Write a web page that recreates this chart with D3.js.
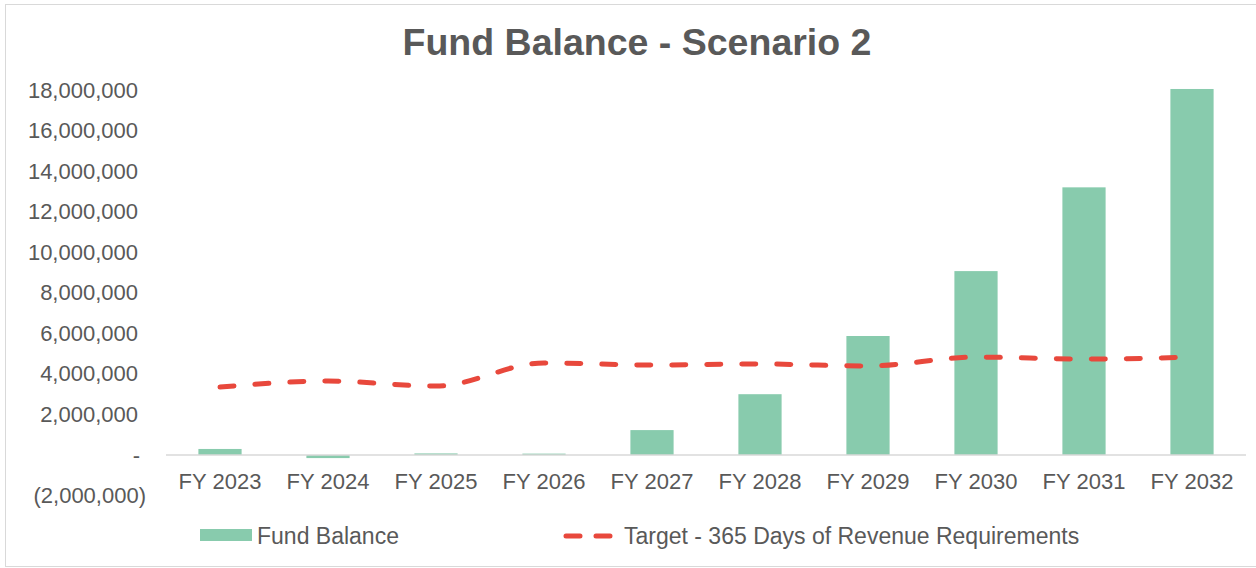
<!DOCTYPE html>
<html>
<head>
<meta charset="utf-8">
<script src="https://cdn.jsdelivr.net/npm/d3@7"></script>
<style>
  body { margin: 0; background: #fff; overflow: hidden; }
  svg { display: block; font-family: "Liberation Sans", Arial, sans-serif; }
</style>
</head>
<body>
<div id="chart"></div>
<script>
// Data
const years = ["FY 2023", "FY 2024", "FY 2025", "FY 2026", "FY 2027", "FY 2028", "FY 2029", "FY 2030", "FY 2031", "FY 2032"];
const fundBalance = [300000, -150000, 80000, 70000, 1230000, 3000000, 5870000, 9070000, 13200000, 18050000];
const target = [3350000, 3650000, 3400000, 4540000, 4440000, 4490000, 4390000, 4830000, 4730000, 4830000];
const yTicks = [-2000000, 0, 2000000, 4000000, 6000000, 8000000, 10000000, 12000000, 14000000, 16000000, 18000000];

const width = 1256, height = 568;
const textColor = "#595959";
const barColor = "#88cbad";
const lineColor = "#e8483c";

const svg = d3.select("#chart").append("svg")
    .attr("width", width)
    .attr("height", height);

// outer chart border (right edge runs off the picture)
svg.append("rect")
    .attr("x", 5.5).attr("y", 4.5)
    .attr("width", 1270).attr("height", 562)
    .attr("fill", "#fff")
    .attr("stroke", "#d9d9d9");

// title
svg.append("text")
    .attr("x", 637)
    .attr("y", 55)
    .attr("text-anchor", "middle")
    .attr("font-size", 37.5)
    .attr("font-weight", "bold")
    .attr("fill", textColor)
    .text("Fund Balance - Scenario 2");

// scales
const x = d3.scaleBand()
    .domain(years)
    .range([166, 1246])
    .paddingInner(0.6)
    .paddingOuter(0.3);

const y = d3.scaleLinear()
    .domain([-2000000, 18000000])
    .range([495.6, 90]);

const fmt = d3.format(",");
const tickText = d => d < 0 ? "(" + fmt(-d) + ")" : d === 0 ? "-" : fmt(d);

// y axis (labels only)
const yAxis = svg.append("g")
    .attr("transform", "translate(138,0)")
    .call(d3.axisLeft(y).tickValues(yTicks).tickFormat(tickText).tickSize(0).tickPadding(0));
yAxis.select(".domain").remove();
yAxis.selectAll("text")
    .attr("font-size", 22)
    .attr("font-family", "Liberation Sans, Arial, sans-serif")
    .attr("fill", textColor)
    .attr("x", d => d < 0 ? 8 : d === 0 ? 2 : 0);

// bars
svg.append("g").selectAll("rect")
    .data(years.map((c, i) => ({ c, v: fundBalance[i] })))
    .join("rect")
    .attr("x", d => x(d.c))
    .attr("width", x.bandwidth())
    .attr("y", d => y(Math.max(0, d.v)))
    .attr("height", d => Math.max(1, Math.abs(y(d.v) - y(0))))
    .attr("fill", barColor);

// zero baseline
svg.append("line")
    .attr("x1", 166).attr("x2", 1246)
    .attr("y1", y(0)).attr("y2", y(0))
    .attr("stroke", "#d9d9d9")
    .attr("stroke-width", 1.5);

// x axis labels
const xAxis = svg.append("g")
    .attr("transform", `translate(0,${y(0)})`)
    .call(d3.axisBottom(x).tickSize(0).tickPadding(18));
xAxis.select(".domain").remove();
xAxis.selectAll("text")
    .attr("font-size", 22)
    .attr("font-family", "Liberation Sans, Arial, sans-serif")
    .attr("fill", textColor);

// target line
const line = d3.line()
    .x((d, i) => x(years[i]) + x.bandwidth() / 2)
    .y(d => y(d))
    .curve(d3.curveMonotoneX);

svg.append("path")
    .datum(target)
    .attr("d", line)
    .attr("fill", "none")
    .attr("stroke", lineColor)
    .attr("stroke-width", 5)
    .attr("stroke-linecap", "round")
    .attr("stroke-dasharray", "14,21");

// legend
const legend = svg.append("g");
legend.append("rect")
    .attr("x", 200).attr("y", 529)
    .attr("width", 52).attr("height", 12)
    .attr("fill", barColor);
legend.append("text")
    .attr("x", 257).attr("y", 544)
    .attr("font-size", 23)
    .attr("fill", textColor)
    .text("Fund Balance");

legend.append("line")
    .attr("x1", 566).attr("x2", 610)
    .attr("y1", 536).attr("y2", 536)
    .attr("stroke", lineColor)
    .attr("stroke-width", 5)
    .attr("stroke-linecap", "round")
    .attr("stroke-dasharray", "14,16");
legend.append("text")
    .attr("x", 624).attr("y", 544)
    .attr("font-size", 23)
    .attr("fill", textColor)
    .text("Target - 365 Days of Revenue Requirements");
</script>
</body>
</html>
